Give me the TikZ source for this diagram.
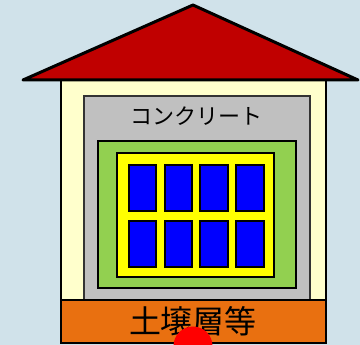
\documentclass[tikz,border=0pt]{standalone}
\usepackage{fontspec}
\newfontfamily\jpfont{Noto Sans CJK JP}
\definecolor{sky}{HTML}{D0E2EA}
\definecolor{roofred}{HTML}{C00000}
\definecolor{cream}{HTML}{FFFFCC}
\definecolor{concrete}{HTML}{C0C0C0}
\definecolor{leaf}{HTML}{92D050}
\definecolor{panel}{HTML}{FFFF00}
\definecolor{pane}{HTML}{0000FF}
\definecolor{soil}{HTML}{E97010}
\definecolor{dot}{HTML}{FF0000}
\tikzset{
  part/.style={draw=black, line width=2pt},
  glass/.style={draw=black, line width=1.5pt, fill=pane},
}
\begin{document}
\begin{tikzpicture}[x=1pt, y=-1pt]
  % canvas
  \fill[sky] (0,0) rectangle (360,345);
  \useasboundingbox (0,0) rectangle (360,345);
  % outer walls
  \draw[part, fill=cream] (61,80) rectangle (326,300);
  % roof
  \draw[line width=3pt, line join=round, fill=roofred] (23,80) -- (193,5) -- (358,80) -- cycle;
  % concrete layer
  \draw[line width=1.5pt, draw=black!80, fill=concrete] (84,96) rectangle (310,300);
  \node[font=\jpfont\fontsize{22}{22}\selectfont, inner sep=0pt] (concretelabel) at (197,116) {コンクリート};
  % inner green frame
  \draw[part, fill=leaf] (98,141) rectangle (296,288);
  % yellow window frame
  \draw[part, fill=panel] (117,153) rectangle (274,277);
  % window panes
  \foreach \xa/\xb in {129/156, 165/192, 200/228, 236/264}{
    \draw[glass] (\xa,165) rectangle (\xb,211);
    \draw[glass] (\xa,221) rectangle (\xb,267);
  }
  % soil layer
  \draw[line width=2.5pt, fill=soil] (61,300) rectangle (326,343);
  \node[font=\jpfont\fontsize{32}{32}\selectfont, inner sep=0pt] (soillabel) at (193,321) {土壌層等};
  % marker
  \fill[dot] (193,346) circle (19.5);
\end{tikzpicture}
\end{document}
